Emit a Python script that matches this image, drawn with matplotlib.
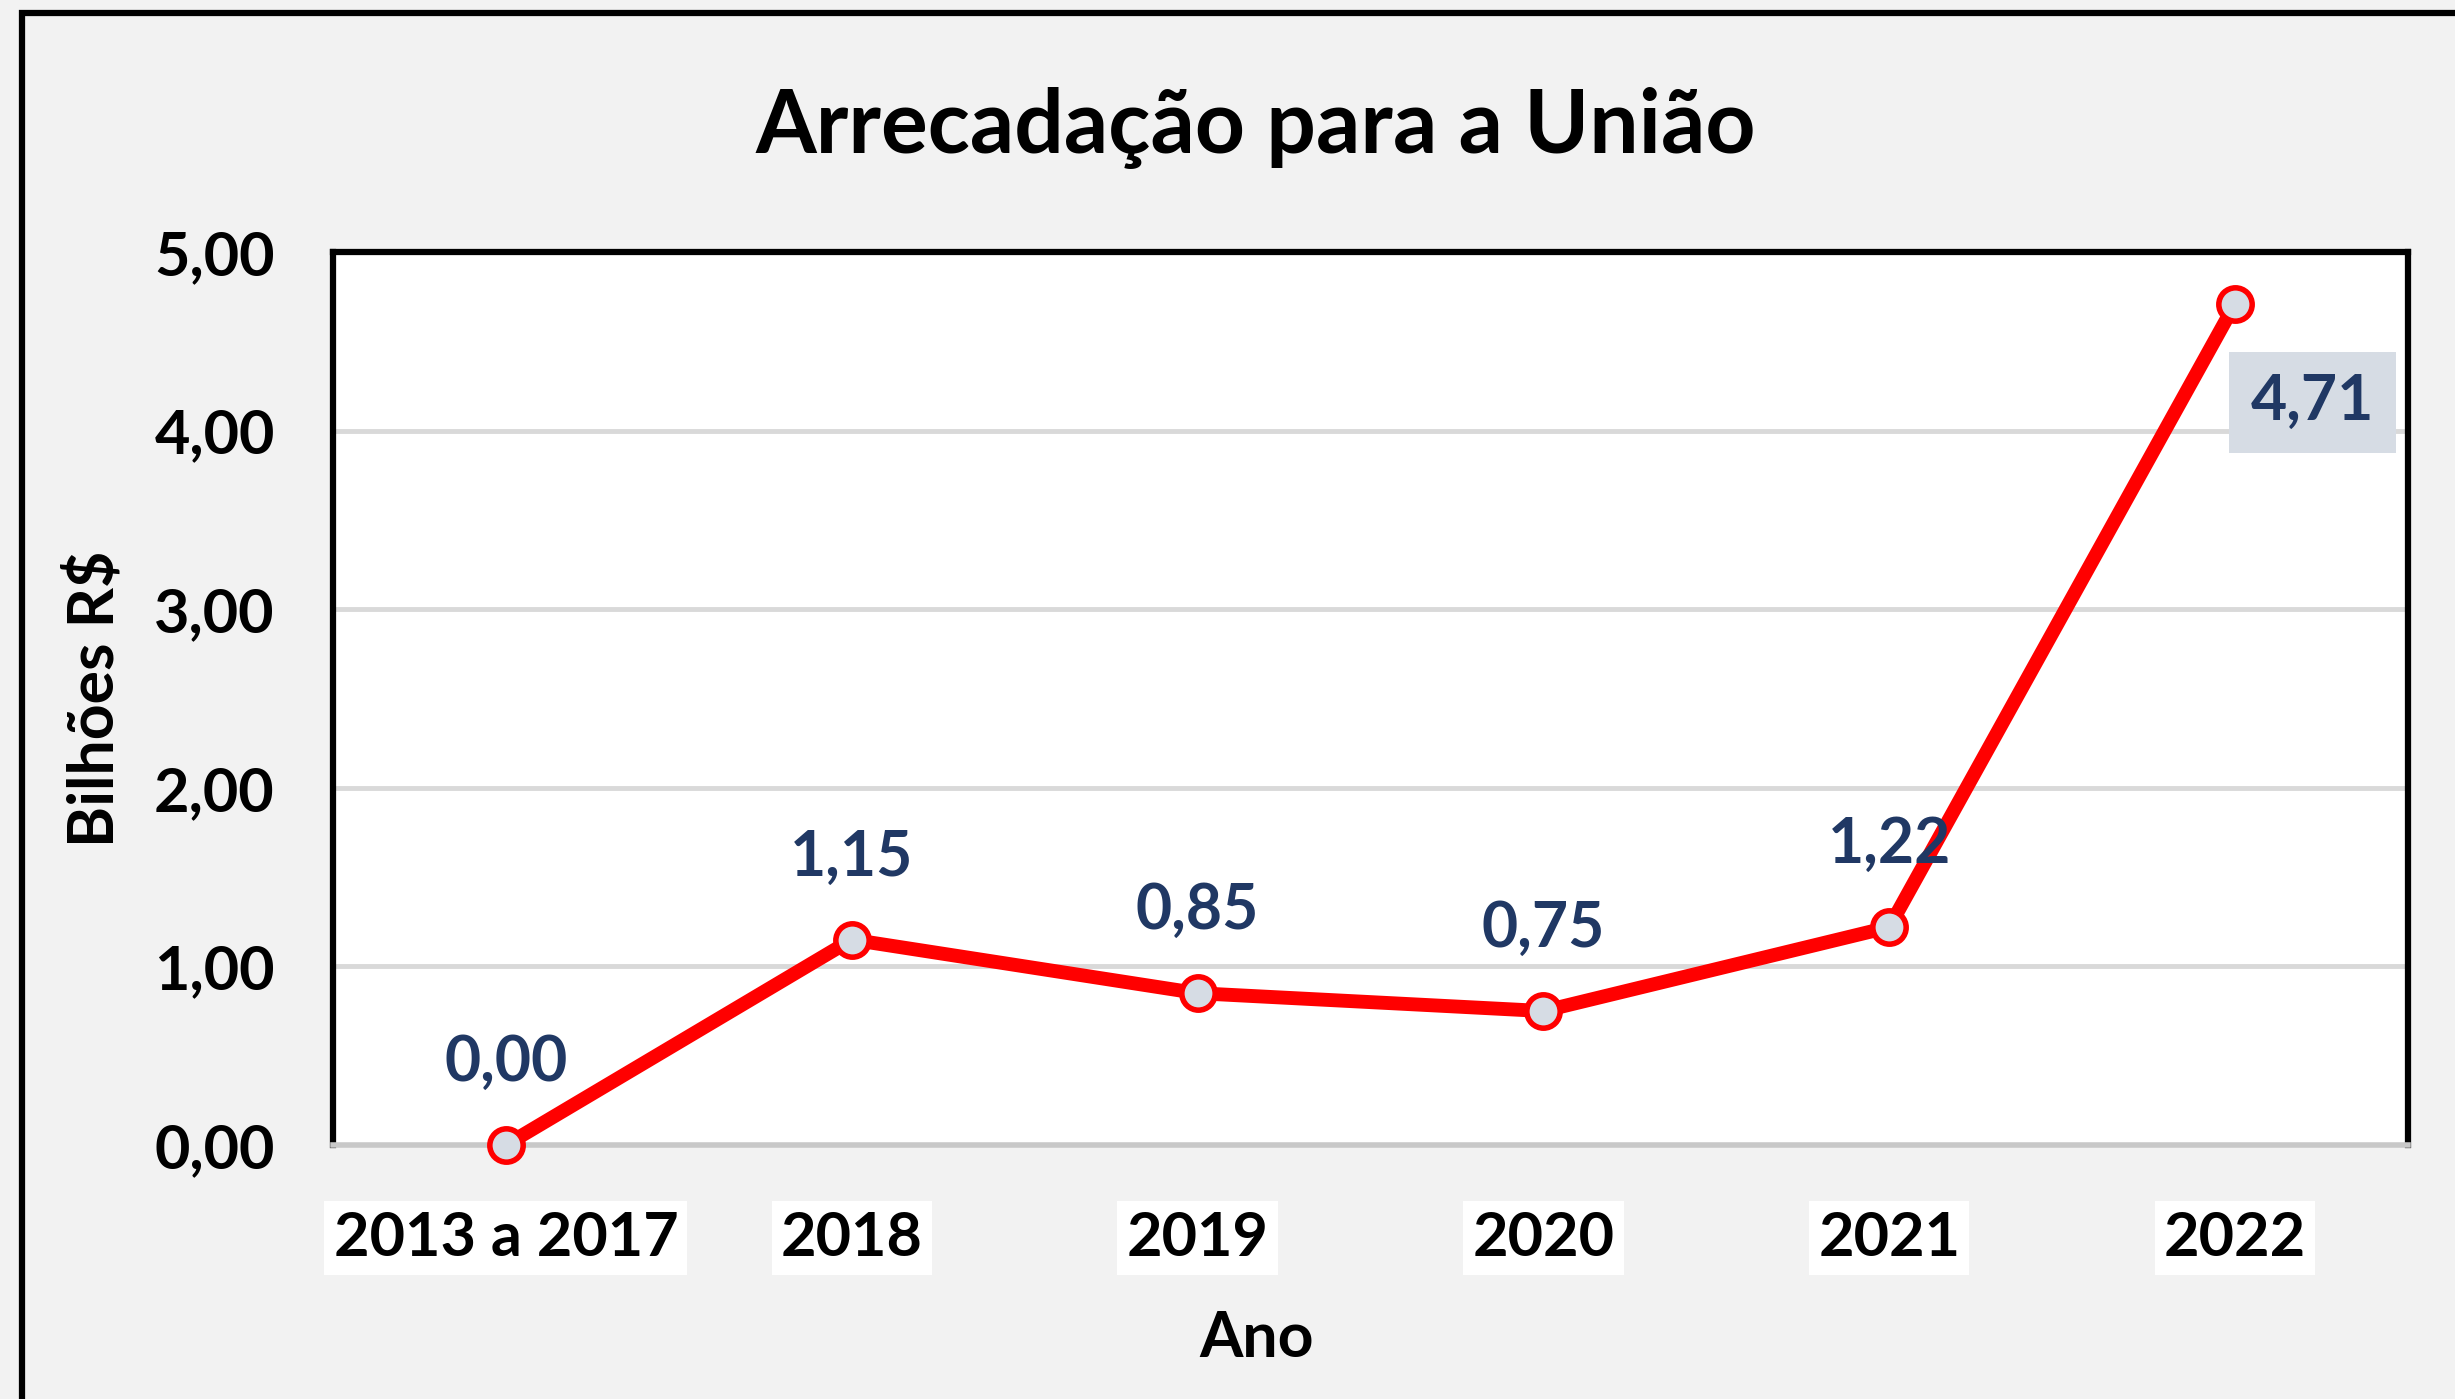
import numpy as np
import matplotlib.pyplot as plt
from matplotlib.patches import Rectangle

plt.rcParams['font.family'] = ['Lato', 'DejaVu Sans']
plt.rcParams['font.weight'] = 'bold'

anos = ['2013 a 2017', '2018', '2019', '2020', '2021', '2022']
valores = [0.00, 1.15, 0.85, 0.75, 1.22, 4.71]
yticks = [0, 1, 2, 3, 4, 5]

fig = plt.figure(figsize=(24.55, 13.99), dpi=100)
fig.patch.set_facecolor('#f2f2f2')

# moldura externa (cortada a direita e embaixo)
fig.patches.append(Rectangle((22/2455, -0.05), 1.2, 1 - 13/1399 + 0.05,
                             transform=fig.transFigure, fill=False,
                             edgecolor='black', linewidth=4.5))

ax = fig.add_axes([333/2455, 1 - 1145/1399, (2408-333)/2455, (1145-252)/1399])
ax.set_facecolor('white')

x = np.arange(len(anos))
ax.plot(x, valores, color='#ff0000', linewidth=10, marker='o', markersize=24,
        markerfacecolor='#d6dce4', markeredgecolor='#ff0000', markeredgewidth=4,
        zorder=5, clip_on=False)

for i, v in enumerate(valores):
    txt = f'{v:.2f}'.replace('.', ',')
    if i == len(valores) - 1:
        ax.annotate(txt, (x[i], v), xytext=(56, -71), textcoords='offset points',
                    ha='center', va='center', fontsize=45, color='#203864',
                    fontweight='bold', zorder=6,
                    bbox=dict(boxstyle='square,pad=0.35', fc='#d6dce4', ec='none'))
    else:
        ax.annotate(txt, (x[i], v), xytext=(0, 59), textcoords='offset points',
                    ha='center', va='center', fontsize=45, color='#203864',
                    fontweight='bold', zorder=6)

ax.set_xlim(-0.5, len(anos) - 0.5)
ax.set_ylim(0, 5)
ax.set_yticks(yticks)
ax.set_yticklabels([f'{t:.2f}'.replace('.', ',') for t in yticks], fontsize=44,
                   fontweight='bold')
ax.set_xticks(x)
ax.set_xticklabels(anos, fontsize=44, fontweight='bold')
for lab in ax.get_xticklabels():
    lab.set_bbox(dict(boxstyle='square,pad=0.15', fc='white', ec='none'))
ax.tick_params(axis='both', length=0)
ax.tick_params(axis='y', pad=42)
ax.tick_params(axis='x', pad=47)

ax.grid(axis='y', color='#d9d9d9', linewidth=3.5, zorder=0)
ax.set_axisbelow(True)
for s in ['top', 'left', 'right']:
    ax.spines[s].set_color('black')
    ax.spines[s].set_linewidth(4.5)
ax.spines['bottom'].set_color('#c8c8c8')
ax.spines['bottom'].set_linewidth(4)

ax.set_xlabel('Ano', fontsize=45, fontweight='bold')
ax.xaxis.set_label_coords(0.445, -0.185)
ax.set_ylabel('Bilhões R$', fontsize=45, fontweight='bold')
ax.yaxis.set_label_coords(-0.1006, 0.5)
fig.text(802/1568, 1 - 128/1399, 'Arrecadação para a União',
         ha='center', va='center', fontsize=63, fontweight='bold')

fig.savefig('out.png', dpi=100, facecolor=fig.get_facecolor())
